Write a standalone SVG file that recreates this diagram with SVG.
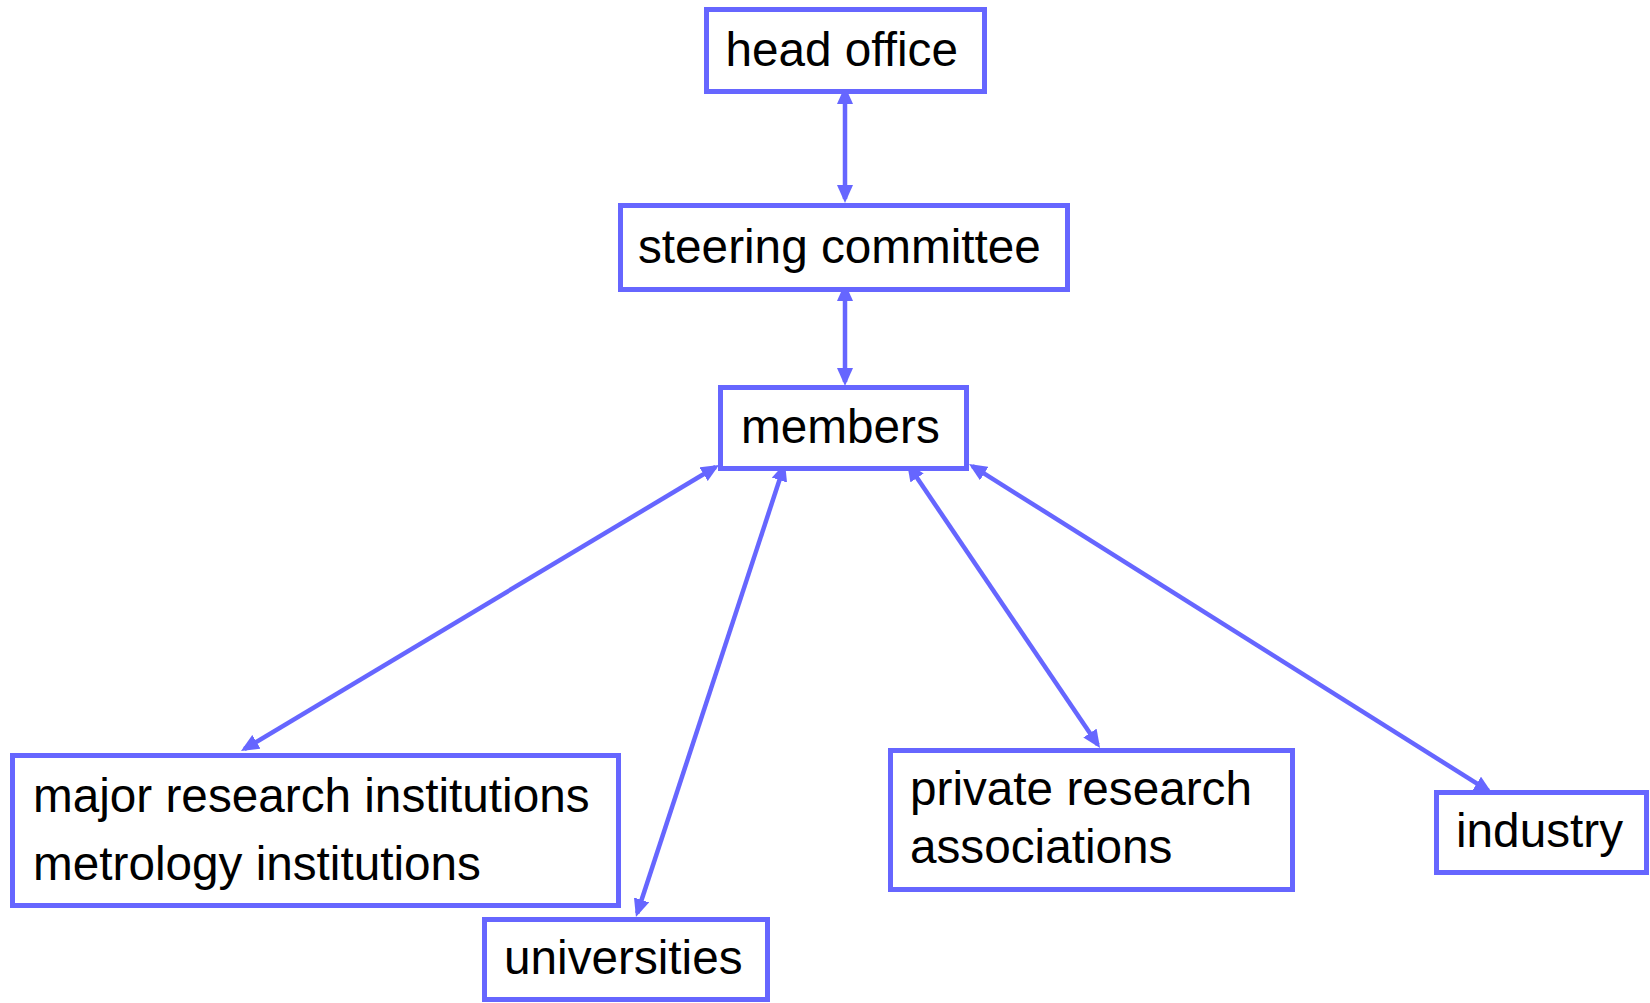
<svg xmlns="http://www.w3.org/2000/svg" width="1650" height="1003" viewBox="0 0 1650 1003">
  <style>
    .box { fill: #ffffff; stroke: #6666ff; stroke-width: 5; }
    .label { font-family: "Liberation Sans", Arial, sans-serif; font-size: 47.7px; fill: #000000; }
    .link { stroke: #6666ff; stroke-width: 4.5; fill: none; marker-start: url(#head); marker-end: url(#head); }
  </style>
  <defs>
    <marker id="head" markerUnits="userSpaceOnUse" markerWidth="18" markerHeight="16" refX="14" refY="8" orient="auto-start-reverse" viewBox="0 0 18 16">
      <path d="M0,0 L18,8 L0,16 z" fill="#6666ff"/>
    </marker>
  </defs>

  <rect width="1650" height="1003" fill="#ffffff"/>

  <g id="connectors">
    <line class="link" x1="845" y1="90" x2="845" y2="199"/>
    <line class="link" x1="845" y1="287" x2="845" y2="382"/>
    <line class="link" x1="715.6" y1="467" x2="244.4" y2="749"/>
    <line class="link" x1="783.8" y1="466.8" x2="637.2" y2="913.2"/>
    <line class="link" x1="909.2" y1="466.3" x2="1097.8" y2="744.7"/>
    <line class="link" x1="972.4" y1="466.1" x2="1488.6" y2="790.9"/>
  </g>

  <g id="head-office">
    <rect class="box" x="706.5" y="9.5" width="278" height="82"/>
    <text class="label" x="725.5" y="66">head office</text>
  </g>

  <g id="steering-committee">
    <rect class="box" x="620.5" y="205.5" width="447" height="84"/>
    <text class="label" x="638" y="263">steering committee</text>
  </g>

  <g id="members">
    <rect class="box" x="720.5" y="387.5" width="246" height="81"/>
    <text class="label" x="741" y="443">members</text>
  </g>

  <g id="major-research">
    <rect class="box" x="12.5" y="755.5" width="606" height="150"/>
    <text class="label" x="33" y="812">major research institutions</text>
    <text class="label" x="33" y="880">metrology institutions</text>
  </g>

  <g id="universities">
    <rect class="box" x="484.5" y="919.5" width="283" height="80"/>
    <text class="label" x="504" y="974">universities</text>
  </g>

  <g id="private-research">
    <rect class="box" x="890.5" y="750.5" width="402" height="139"/>
    <text class="label" x="910" y="805">private research</text>
    <text class="label" x="910" y="863">associations</text>
  </g>

  <g id="industry">
    <rect class="box" x="1436.5" y="792.5" width="210" height="80"/>
    <text class="label" x="1456" y="847">industry</text>
  </g>
</svg>
